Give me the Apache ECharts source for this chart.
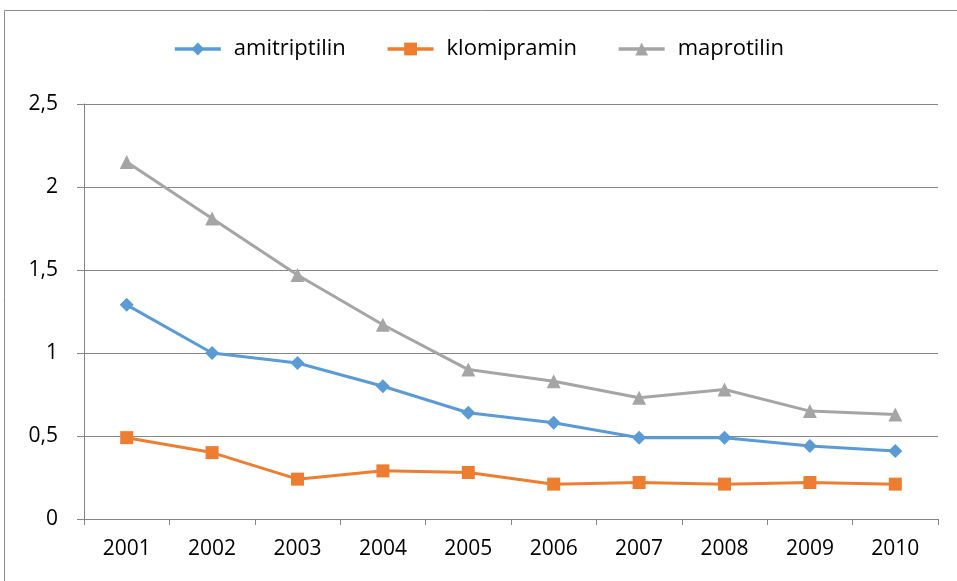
<!DOCTYPE html>
<html>
<head>
<meta charset="utf-8">
<script src="https://cdn.jsdelivr.net/npm/echarts@6/dist/echarts.min.js"></script>
<style>
  html, body { margin: 0; padding: 0; background: #fff; }
  #chart { width: 957px; height: 581px; }
</style>
</head>
<body>
<div id="chart"></div>
<script>
const years = ['2001', '2002', '2003', '2004', '2005', '2006', '2007', '2008', '2009', '2010'];
const amitriptilin = [1.29, 1.0, 0.94, 0.8, 0.64, 0.58, 0.49, 0.49, 0.44, 0.41];
const klomipramin = [0.49, 0.4, 0.24, 0.29, 0.28, 0.21, 0.22, 0.21, 0.22, 0.21];
const maprotilin = [2.15, 1.81, 1.47, 1.17, 0.9, 0.83, 0.73, 0.78, 0.65, 0.63];

const font = 'Open Sans';

const makeSeries = (name, data, color, symbol, size) => ({
  name,
  type: 'line',
  data,
  symbol,
  symbolSize: size,
  color,
  lineStyle: { width: 3, color },
  itemStyle: { color },
});

const drawChart = (domElement) => {
  const chart = echarts.init(domElement);
  const option = {
    animation: false,
    textStyle: { fontFamily: font },
    graphic: [{
      type: 'polyline',
      shape: { points: [[4.5, 600], [4.5, 10.5], [960, 10.5]] },
      style: { stroke: '#8c8c8c', lineWidth: 1, fill: null },
    }],
    legend: {
      top: 33,
      left: 'center',
      itemWidth: 46,
      itemHeight: 16,
      itemGap: 40,
      lineStyle: { width: 3.5 },
      textStyle: { fontSize: 22, color: '#000', fontFamily: font, padding: [0, 0, 0, 8] },
      data: ['amitriptilin', 'klomipramin', 'maprotilin'],
    },
    grid: { left: 84, right: 19, top: 104, bottom: 62 },
    xAxis: {
      type: 'category',
      data: years,
      boundaryGap: true,
      axisLine: { lineStyle: { color: '#868686', width: 1 } },
      axisTick: { show: true, length: 6, lineStyle: { color: '#868686' } },
      axisLabel: { fontSize: 21, color: '#000', margin: 20, fontFamily: font },
    },
    yAxis: {
      type: 'value',
      min: 0,
      max: 2.5,
      interval: 0.5,
      axisLine: { show: true, lineStyle: { color: '#868686', width: 1 } },
      axisTick: { show: true, length: 7, lineStyle: { color: '#868686' } },
      axisLabel: {
        fontSize: 21,
        color: '#000',
        margin: 26,
        fontFamily: font,
        formatter: (v) => String(v).replace('.', ','),
      },
      splitLine: { lineStyle: { color: '#868686', width: 1 } },
    },
    series: [
      makeSeries('amitriptilin', amitriptilin, '#5b9bd5', 'diamond', 14),
      makeSeries('klomipramin', klomipramin, '#ed7d31', 'rect', 13),
      makeSeries('maprotilin', maprotilin, '#a5a5a5', 'triangle', 14),
    ],
  };
  chart.setOption(option);
};

drawChart(document.querySelector('#chart'));
</script>
</body>
</html>
